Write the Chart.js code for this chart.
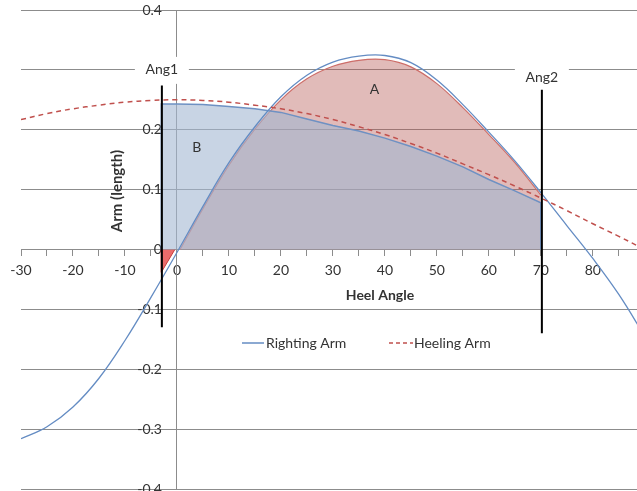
<!DOCTYPE html>
<html>
<head>
<meta charset="utf-8">
<script src="https://cdn.jsdelivr.net/npm/chart.js@4.4.1/dist/chart.umd.min.js"></script>
<style>
  html, body { margin: 0; padding: 0; background: #fff; }
  #wrap { width: 637px; height: 491px; }
</style>
</head>
<body>
<div id="wrap"><canvas id="stabChart"></canvas></div>
<script>
// angles read every 5 degrees
const angles = [-30, -25, -20, -15, -10, -5, 0, 5, 10, 15, 20, 25, 30, 35, 40, 45, 50, 55, 60, 65, 70, 75, 80, 85, 90];
const rightingArm = [-0.316, -0.296, -0.263, -0.215, -0.152, -0.08, -0.005, 0.072, 0.145, 0.205, 0.255, 0.291, 0.313, 0.323, 0.324, 0.312, 0.283, 0.242, 0.196, 0.148, 0.095, 0.04, -0.015, -0.075, -0.145];
const heelingArm = [0.217, 0.227, 0.235, 0.241, 0.246, 0.249, 0.25, 0.249, 0.246, 0.241, 0.235, 0.227, 0.217, 0.205, 0.192, 0.177, 0.161, 0.143, 0.125, 0.106, 0.086, 0.065, 0.043, 0.022, 0.0];

// shaded area A (under righting arm, up to Ang2)
const areaAAngles = [0.6, 5, 10, 15, 20, 25, 30, 35, 40, 45, 50, 55, 60, 65, 70];
const areaAValues = [0, 0.068, 0.141, 0.201, 0.25, 0.285, 0.306, 0.316, 0.317, 0.305, 0.277, 0.237, 0.192, 0.145, 0.091];

// shaded area B (from Ang1 to Ang2)
const areaBAngles = [-3, -3, 0, 5, 10, 15, 20, 25, 30, 35, 40, 45, 50, 55, 60, 65, 70, 70];
const areaBValues = [0, 0.243, 0.243, 0.242, 0.239, 0.235, 0.229, 0.218, 0.207, 0.198, 0.186, 0.172, 0.156, 0.138, 0.117, 0.098, 0.078, 0];

// small negative piece left of zero
const negAngles = [-3, -3, -0.4];
const negValues = [0, -0.038, 0];

const ang1 = { angle: -2.9, top: 0.274, bottom: -0.13, label: "Ang1", labelY: 0.3 };
const ang2 = { angle: 70.2, top: 0.267, bottom: -0.14, label: "Ang2", labelY: 0.288 };

const regionLabels = [
  { text: "A", x: 38, y: 0.267 },
  { text: "B", x: 3.8, y: 0.17 },
];

const FONT = "Lato, 'Open Sans', sans-serif";
const TEXT = "#333";
const GRID = "#8c8c8c";
const BLUE = "rgb(100,140,195)";
const RED = "rgb(192,80,77)";

const pts = (xs, ys) => xs.map((x, i) => ({ x: x, y: ys[i] }));

const extras = {
  id: "extras",
  beforeDatasetsDraw(chart) {
    const { ctx, scales: { x, y } } = chart;
    ctx.save();
    // y tick labels, left of the zero line
    ctx.fillStyle = TEXT;
    ctx.font = "14px " + FONT;
    ctx.textAlign = "right";
    ctx.textBaseline = "middle";
    const x0 = x.getPixelForValue(0);
    y.ticks.forEach((t) => {
      ctx.fillText(String(Math.round(t.value * 10) / 10), x0 - 15, y.getPixelForValue(t.value));
    });
    // white boxes behind Ang labels
    ctx.fillStyle = "#fff";
    [ang1, ang2].forEach((a) => {
      const px = x.getPixelForValue(a.angle);
      const py = y.getPixelForValue(a.labelY);
      ctx.fillRect(px - 27, py - 13, 54, 27);
    });
    ctx.restore();
  },
  afterDatasetsDraw(chart) {
    const { ctx, scales: { x, y } } = chart;
    ctx.save();
    ctx.fillStyle = TEXT;
    ctx.textAlign = "center";
    ctx.textBaseline = "middle";
    ctx.font = "14px " + FONT;
    [ang1, ang2].forEach((a) => {
      ctx.fillText(a.label, x.getPixelForValue(a.angle), y.getPixelForValue(a.labelY));
    });
    regionLabels.forEach((r) => {
      ctx.fillText(r.text, x.getPixelForValue(r.x), y.getPixelForValue(r.y));
    });

    // axis titles
    ctx.font = "bold 14px " + FONT;
    ctx.fillText("Heel Angle", 380, 295);
    ctx.save();
    ctx.translate(117, 191);
    ctx.rotate(-Math.PI / 2);
    ctx.font = "bold 15px " + FONT;
    ctx.fillText("Arm (length)", 0, 0);
    ctx.restore();

    // legend
    ctx.font = "14px " + FONT;
    ctx.textAlign = "left";
    ctx.lineWidth = 1.5;
    ctx.strokeStyle = BLUE;
    ctx.beginPath();
    ctx.moveTo(242, 343);
    ctx.lineTo(264, 343);
    ctx.stroke();
    ctx.fillText("Righting Arm", 266, 343);
    ctx.strokeStyle = RED;
    ctx.setLineDash([4, 3]);
    ctx.beginPath();
    ctx.moveTo(389, 343);
    ctx.lineTo(413, 343);
    ctx.stroke();
    ctx.setLineDash([]);
    ctx.fillText("Heeling Arm", 414, 343);
    ctx.restore();
  },
};

const ctx = document.getElementById("stabChart").getContext("2d");

new Chart(ctx, {
  type: "scatter",
  data: {
    datasets: [
      {
        label: "Ang1",
        data: [{ x: ang1.angle, y: ang1.top }, { x: ang1.angle, y: ang1.bottom }],
        showLine: true,
        borderColor: "#000",
        borderWidth: 2,
        pointRadius: 0,
      },
      {
        label: "Ang2",
        data: [{ x: ang2.angle, y: ang2.top }, { x: ang2.angle, y: ang2.bottom }],
        showLine: true,
        borderColor: "#000",
        borderWidth: 2,
        pointRadius: 0,
      },
      {
        label: "Heeling Arm",
        data: pts(angles, heelingArm),
        showLine: true,
        borderColor: RED,
        borderWidth: 1.5,
        borderDash: [5, 4],
        pointRadius: 0,
        tension: 0.4,
      },
      {
        label: "Righting Arm",
        data: pts(angles, rightingArm),
        showLine: true,
        borderColor: BLUE,
        borderWidth: 1.3,
        pointRadius: 0,
        tension: 0.4,
      },
      {
        label: "B",
        data: pts(areaBAngles, areaBValues),
        showLine: true,
        borderColor: "rgb(110,145,195)",
        borderWidth: 1.5,
        backgroundColor: "rgba(163,183,210,0.6)",
        fill: "origin",
        pointRadius: 0,
        tension: 0,
      },
      {
        label: "A",
        data: pts(areaAAngles, areaAValues),
        showLine: true,
        borderColor: "rgb(205,110,105)",
        borderWidth: 1.2,
        backgroundColor: "rgba(180,85,80,0.4)",
        fill: "origin",
        pointRadius: 0,
        tension: 0.35,
      },
      {
        label: "neg",
        data: pts(negAngles, negValues),
        showLine: true,
        borderColor: "rgb(200,60,60)",
        borderWidth: 1,
        backgroundColor: "rgba(230,70,70,0.8)",
        fill: "origin",
        pointRadius: 0,
      },
    ],
  },
  options: {
    responsive: true,
    maintainAspectRatio: false,
    animation: false,
    layout: { padding: { left: 21, right: 0, top: 10, bottom: 2 } },
    plugins: {
      legend: { display: false },
      tooltip: { enabled: false },
    },
    scales: {
      x: {
        type: "linear",
        min: -30,
        max: 88.5,
        position: { y: 0 },
        border: { color: GRID },
        grid: { drawOnChartArea: false, drawTicks: true, tickLength: 6, color: GRID },
        ticks: {
          stepSize: 5,
          includeBounds: false,
          autoSkip: false,
          maxRotation: 0,
          padding: 7,
          color: TEXT,
          font: { family: FONT, size: 14 },
          callback: (v) => (v % 10 === 0 ? v : ""),
        },
        afterFit: (s) => { s.paddingLeft = 0; s.paddingRight = 0; },
      },
      y: {
        type: "linear",
        min: -0.4,
        max: 0.4,
        position: { x: 0 },
        border: { color: GRID },
        grid: { color: GRID, drawTicks: false },
        ticks: {
          display: false,
          stepSize: 0.1,
          includeBounds: false,
        },
        afterFit: (s) => { s.paddingTop = 0; s.paddingBottom = 0; },
      },
    },
  },
  plugins: [extras],
});
</script>
</body>
</html>
